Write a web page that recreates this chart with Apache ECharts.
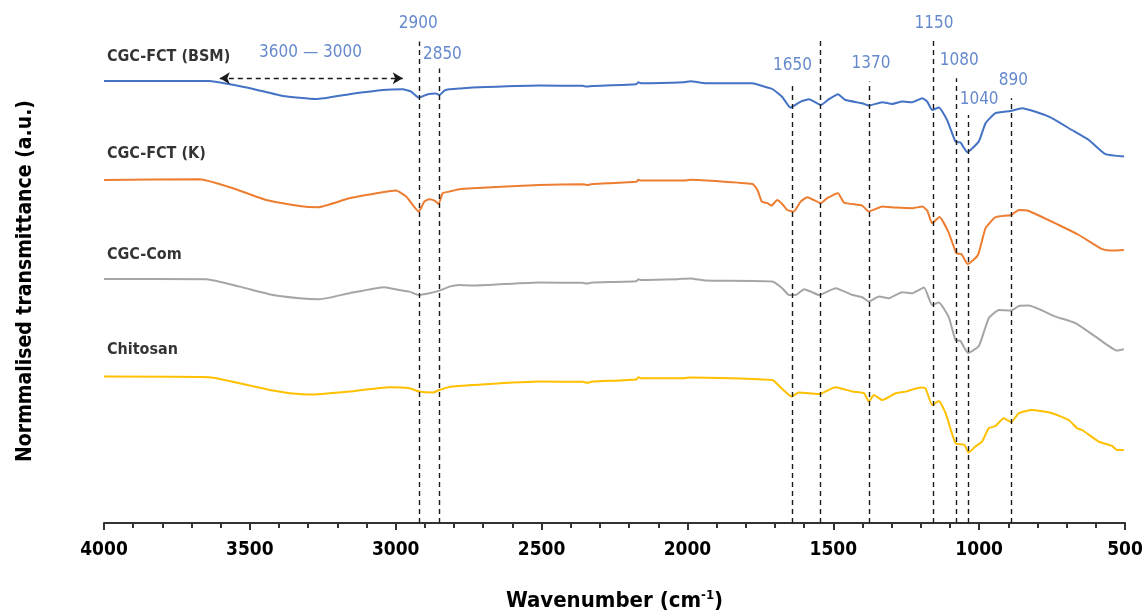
<!DOCTYPE html>
<html>
<head>
<meta charset="utf-8">
<script src="https://cdn.jsdelivr.net/npm/echarts@6/dist/echarts.min.js"></script>
<style>
html,body{margin:0;padding:0;background:#fff;}
#chart{width:1145px;height:614px;}
</style>
</head>
<body>
<div id="chart"></div>
<script>
// ---- Data (wavenumber cm-1, normalised transmittance with vertical offsets, a.u.) ----
const seriesNames = ['CGC-FCT (BSM)', 'CGC-FCT (K)', 'CGC-Com', 'Chitosan'];

const bsm = [
  [4000,221],[3640,221],[3500,217.4],[3387,213.5],[3273,212],[3159,214.4],[3045,216.5],
  [2976,216.9],[2947,215.7],[2921,212.7],[2890,214.4],[2862,214.7],[2850,214],[2833,216.2],
  [2816,216.9],[2782,217.2],[2736,217.7],[2508,218.7],[2360,218.6],[2345,218.2],[2326,218.5],[2175,219.4],
  [2168,220.4],[2160,219.9],[2011,220.4],[1990,220.9],[1937,219.9],[1823,219.9],[1777,219.9],[1743,218.5],
  [1709,217],[1675,213],[1647,207.7],[1612,210.7],[1583,211.9],[1543,209],[1515,211.9],
  [1484,214.4],[1458,211.5],[1401,209.9],[1378,208.7],[1332,210.4],[1298,209.5],[1264,210.7],
  [1229,210.4],[1195,212.4],[1178,210.7],[1161,206.5],[1138,207.7],[1110,201.5],[1081,190.7],
  [1064,190.2],[1041,185.4],[1001,190.8],[978,199.9],[944,204.9],[892,206],[853,207.4],
  [761,203.2],[682,196.5],[624,191.5],[567,184.4],[503,183.2]
];

const kSample = [
  [4000,171.5],[3672,171.9],[3558,167.4],[3444,161.5],[3330,158.5],[3267,157.9],[3159,162.4],
  [3045,165.4],[2999,166.2],[2964,163.2],[2921,155.7],[2902,160.7],[2885,161.9],[2867,161.2],
  [2853,159.5],[2839,164.9],[2816,165.7],[2782,166.9],[2736,167.4],[2508,169],[2360,169.4],[2345,169.0],
  [2325,169.5],[2175,170.6],[2168,171.6],[2160,171.2],[2011,171.2],[1990,171.6],[1777,169.5],[1760,166.5],
  [1745,160.7],[1726,159.9],[1712,158.7],[1692,161.5],[1675,159.5],[1658,156.5],[1635,155.7],
  [1612,160.7],[1589,162.9],[1543,159.9],[1521,162.4],[1484,164.9],[1463,160.2],[1401,158.7],
  [1378,155.7],[1332,158.2],[1286,157.7],[1229,157.4],[1195,158.2],[1178,156.2],[1161,149.9],
  [1136,153],[1106,145.7],[1078,134.9],[1061,134.5],[1039,129.5],[1004,134],[978,147.4],
  [944,152.9],[890,154],[864,156.5],[830,156],[727,149],[658,144],[578,136.9],[544,136.2],[504,136.5]
];

const com = [
  [4000,122],[3649,121.9],[3535,118.2],[3421,114],[3330,112.4],[3261,111.9],[3159,114.9],
  [3039,117.9],[2988,116.5],[2953,115.7],[2921,114],[2885,114.9],[2850,116.2],[2816,118.2],
  [2782,119],[2736,118.7],[2508,120.2],[2360,120.1],[2345,119.7],[2325,120.2],[2175,120.9],[2168,121.9],
  [2160,121.5],[2034,121.9],[1990,122.3],[1937,121.2],[1709,120.7],[1675,117.4],[1652,114],[1629,114],
  [1600,116.9],[1577,115.7],[1549,114],[1492,117.4],[1434,114],[1401,112.9],[1378,110.7],
  [1343,113.2],[1309,112.4],[1264,115.4],[1229,114.9],[1189,117.7],[1161,109],[1138,110.2],
  [1104,102.8],[1081,91.5],[1064,91],[1038,85],[1001,88.5],[967,102.4],[932,106.5],
  [890,106.2],[864,108.5],[830,108.7],[738,103.2],[670,99.9],[601,93.2],[527,86.2],[504,86.9]
];

const chitosan = [
  [4000,73.2],[3638,72.9],[3524,69.5],[3421,66.2],[3364,64.9],[3284,64.2],[3159,65.7],
  [3022,67.9],[2953,67.4],[2919,65.7],[2873,65.2],[2850,66.5],[2816,68],[2782,68.5],
  [2736,69],[2508,70.7],[2360,70.6],[2345,70.1],[2325,70.7],[2175,71.8],[2168,72.9],[2160,72.4],
  [2011,72.4],[1990,72.8],[1709,71.5],[1675,67],[1643,63.2],[1618,65.2],[1583,64.9],[1549,64.5],
  [1492,67.9],[1434,65.7],[1395,64.9],[1378,60.7],[1361,64],[1332,61.5],[1286,64.9],
  [1252,65.7],[1201,67.8],[1184,67.4],[1161,59],[1138,61],[1115,54.9],[1081,39.9],
  [1050,39],[1036,35.2],[1013,38.2],[990,40.7],[967,47.4],[944,48.5],[916,52.4],
  [890,50.4],[864,54.9],[819,56.5],[750,54.9],[693,51.5],[664,47.4],[647,46.5],
  [590,40.7],[544,38.5],[527,36.5],[504,36.5]
];

const xTicks = [4000, 3500, 3000, 2500, 2000, 1500, 1000, 500];

// Peak annotations
const peakText  = ['2900','2850','1650','1540','1370','1150','1080','1040','890'];
const peakLineX = [2920, 2852, 1640, 1543, 1378, 1158, 1079, 1039, 890];
const peakLineTop = [240.7, 227.3, 219, 241.2, 220.7, 241.9, 222.4, 204, 212.4];
const peakLabelPos = [[2923,249.9],[2840,234],[1640,228.7],[1543,250.2],[1371,229.9],[1155,249.9],[1068,231],[1000,211.9],[883,221.2]];

const rangeText = '3600 \u2014 3000';
const rangeArrow = [3603, 2976, 222.4];
const rangeLabelPos = [3292, 235.4];

const seriesLabelPos = [[3990,233.2],[3990,184.8],[3990,134],[3990,86.5]];

const colors = ['#4472C4', '#ED7D31', '#A5A5A5', '#FFC000'];
const condensed = "'Liberation Sans Narrow', 'DejaVu Sans Condensed', sans-serif";

// ---- Chart ----
const chart = echarts.init(document.getElementById('chart'), null, {renderer: 'canvas'});

const curveData = [bsm, kSample, com, chitosan];
const series = curveData.map((d, i) => ({
  name: seriesNames[i],
  type: 'line',
  data: d,
  showSymbol: false,
  smooth: 0.15,
  lineStyle: {color: colors[i], width: 2},
  itemStyle: {color: colors[i]},
  z: 3
}));

series.push({
  type: 'line',
  data: [],
  silent: true,
  markLine: {
    silent: true,
    symbol: ['none', 'none'],
    label: {show: false},
    lineStyle: {color: '#1a1a1a', type: [5, 4], width: 1.4},
    data: peakLineX.map((x, i) => [{coord: [x, 0]}, {coord: [x, peakLineTop[i]]}]).concat([
      [{coord: [rangeArrow[0], rangeArrow[2]], symbol: 'arrow', symbolSize: [9, 10]},
       {coord: [rangeArrow[1], rangeArrow[2]], symbol: 'arrow', symbolSize: [9, 10]}]
    ]),
    animation: false
  },
  z: 2
});

series.push({
  type: 'scatter',
  symbolSize: 0,
  silent: true,
  data: peakLabelPos.map((p, i) => ({value: p, name: peakText[i]})).concat([{value: rangeLabelPos, name: rangeText}]),
  label: {
    show: true,
    position: 'inside',
    formatter: p => p.name,
    color: '#3f6cc0',
    fontFamily: condensed,
    fontSize: 17
  },
  z: 5
});

series.push({
  type: 'scatter',
  symbolSize: 0,
  silent: true,
  data: seriesLabelPos.map((p, i) => ({value: p, name: seriesNames[i]})),
  label: {
    show: true,
    position: [0, 0],
    align: 'left',
    verticalAlign: 'middle',
    formatter: p => p.name,
    color: '#000',
    fontFamily: condensed,
    fontWeight: 'bold',
    fontSize: 16
  },
  z: 5
});

chart.setOption({
  animation: false,
  backgroundColor: '#fff',
  grid: {left: 104, right: 20, top: 23, bottom: 91, containLabel: false, outerBoundsMode: 'none'},
  xAxis: {
    type: 'value',
    inverse: true,
    min: 500,
    max: 4000,
    interval: 500,
    axisLine: {show: true, onZero: false, lineStyle: {color: '#333', width: 2}},
    axisTick: {show: true, length: 7, lineStyle: {color: '#333', width: 2}},
    minorTick: {show: true, splitNumber: 5, length: 5, lineStyle: {color: '#333', width: 2}},
    splitLine: {show: false},
    axisLabel: {
      color: '#000', fontFamily: condensed, fontWeight: 'bold', fontSize: 19, margin: 18,
      formatter: v => xTicks.includes(v) ? String(v) : ''
    },
    name: '{a|Wavenumber (cm}{s|-1}{a|)}',
    nameLocation: 'middle',
    nameGap: 66,
    nameTextStyle: {
      rich: {
        a: {fontFamily: condensed, fontWeight: 'bold', fontSize: 22, color: '#000', lineHeight: 24},
        s: {fontFamily: condensed, fontWeight: 'bold', fontSize: 13, color: '#000', verticalAlign: 'top', lineHeight: 24, padding: [0, 0, 10, 0]}
      }
    }
  },
  yAxis: {
    type: 'value',
    min: 0,
    max: 250,
    axisLine: {show: false},
    axisTick: {show: false},
    axisLabel: {show: false},
    splitLine: {show: false},
    name: 'Normmalised transmittance (a.u.)',
    nameLocation: 'middle',
    nameGap: 68,
    nameTextStyle: {fontFamily: condensed, fontWeight: 'bold', fontSize: 21, color: '#000', padding: [0, 16, 0, 0]}
  },
  series: series
});
</script>
</body>
</html>
